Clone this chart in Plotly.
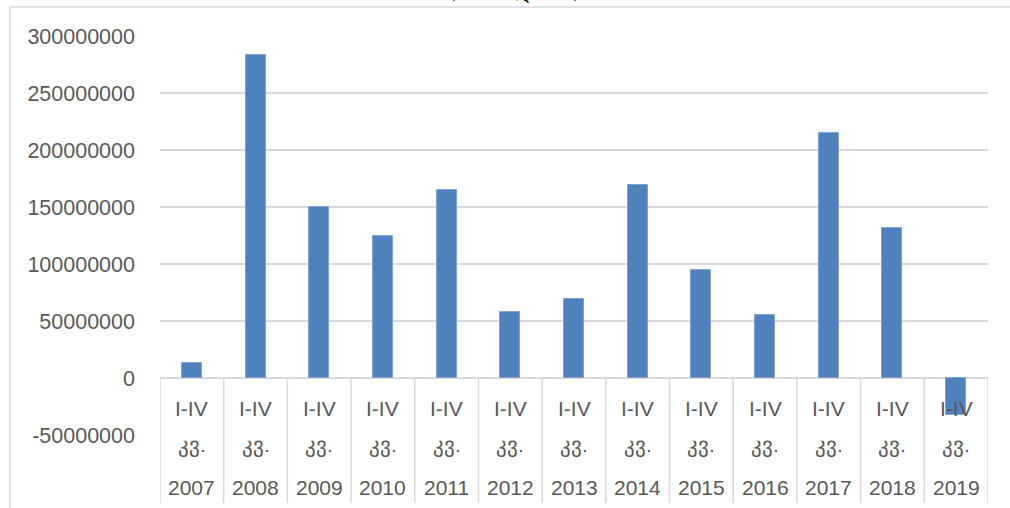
import plotly.graph_objects as go

years = ["2007", "2008", "2009", "2010", "2011", "2012", "2013",
         "2014", "2015", "2016", "2017", "2018", "2019"]
period = "I-IV"
quarter_abbr = "კვ."
values = [13500000, 283100000, 149700000, 124300000, 165300000, 57900000, 69600000,
          169000000, 94500000, 55000000, 215300000, 131600000, -32200000]
y_ticks = [-50000000, 0, 50000000, 100000000, 150000000, 200000000, 250000000, 300000000]
title_text = "(ათას ლარი)"

W, H = 1010, 508
ML, MR, MT, MB = 160, 22, 36, 73
plot_h = H - MT - MB


def py(pix):
    return (H - MB - pix) / plot_h


def px(pix):
    return (pix - ML) / (W - ML - MR)


xs = list(range(len(years)))
text_color = "#595959"
grid_color = "#D9D9D9"
font_family = "Liberation Sans, Arial, sans-serif"

fig = go.Figure()
fig.add_trace(go.Bar(
    x=xs, y=values, width=0.314,
    marker=dict(color="#4F81BD", line=dict(color="#7FA3D1", width=1)),
    showlegend=False,
))

annotations = []
for i, yr in enumerate(years):
    for txt, pix in ((period, 408), (quarter_abbr, 445), (yr, 487)):
        annotations.append(dict(
            x=i, y=py(pix), xref="x", yref="paper", text=txt, showarrow=False,
            xanchor="center", yanchor="middle",
            font=dict(size=21, color=text_color, family=font_family),
        ))
annotations.append(dict(
    x=px(514), y=py(5), xref="paper", yref="paper", text=title_text, showarrow=False,
    xanchor="center", yanchor="bottom",
    font=dict(size=20, color="#000000", family="DejaVu Serif, serif"),
))

shapes = []
for i in range(len(years) + 1):
    shapes.append(dict(
        type="line", xref="x", yref="paper", x0=i - 0.5, x1=i - 0.5,
        y0=py(378), y1=py(503), line=dict(color=grid_color, width=1.5), layer="below",
    ))
# outer chart border (top and left)
shapes.append(dict(type="line", xref="paper", yref="paper", x0=px(10), x1=px(1012),
                   y0=py(7), y1=py(7), line=dict(color=grid_color, width=1.5)))
shapes.append(dict(type="line", xref="paper", yref="paper", x0=px(10), x1=px(10),
                   y0=py(7), y1=py(512), line=dict(color=grid_color, width=1.5)))

fig.update_layout(
    width=W, height=H,
    margin=dict(l=ML, r=MR, t=MT, b=MB),
    paper_bgcolor="white", plot_bgcolor="white",
    annotations=annotations, shapes=shapes,
    bargap=0,
    xaxis=dict(range=[-0.5, len(years) - 0.5], showticklabels=False, showgrid=False,
               zeroline=False, showline=False, ticks=""),
    yaxis=dict(range=[-50000000, 300000000], tickvals=y_ticks,
               ticktext=[str(v) for v in y_ticks],
               showgrid=True, gridcolor=grid_color, gridwidth=1.5,
               zeroline=True, zerolinecolor=grid_color, zerolinewidth=1.5,
               showline=False, ticks="", ticklabelstandoff=24,
               tickfont=dict(size=21.5, color=text_color, family=font_family)),
)

fig.write_html("out.html", config={"displayModeBar": False},
               post_script="document.body.style.margin='0';document.body.style.overflow='hidden';")
